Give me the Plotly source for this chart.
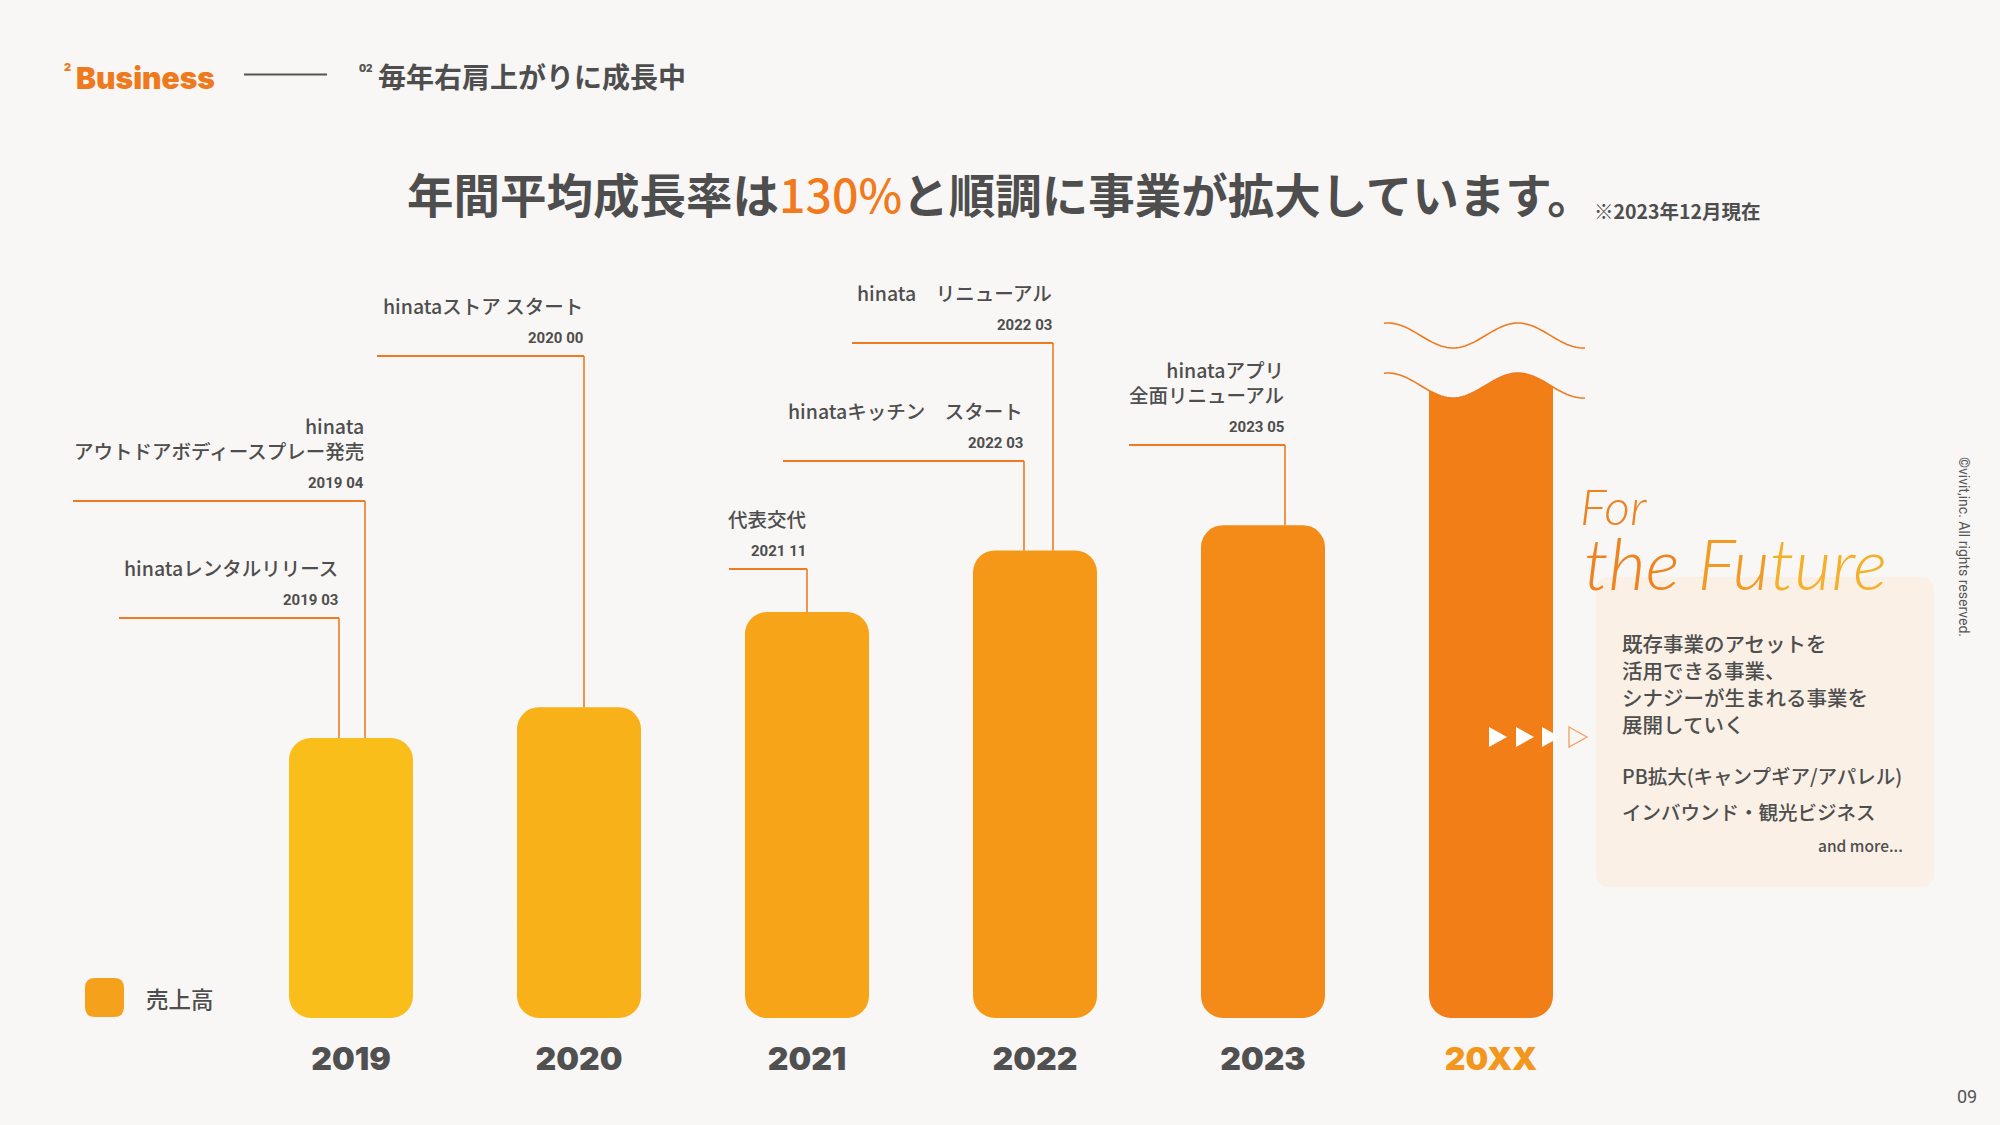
import math
import plotly.graph_objects as go

# ---------------- data ----------------
years = ["2019", "2020", "2021", "2022", "2023", "20XX"]
tick_labels = ["2019", "2020", "2021", "2022", "2023", "<span style='color:#F3961D'>20XX</span>"]
sales_index = [100, 111, 145, 167, 176, 245]   # relative revenue (2019 = 100); 20XX = projected (broken bar)
bar_colors = ["#F9BE19", "#F8B118", "#F7A418", "#F59818", "#F48B18", "#F27E17"]

event_titles = ["hinataレンタルリリース", "hinata<br>アウトドアボディースプレー発売", "hinataストア スタート",
                "代表交代", "hinataキッチン　スタート", "hinata　リニューアル", "hinataアプリ<br>全面リニューアル"]
event_dates = ["2019 03", "2019 04", "2020 00", "2021 11", "2022 03", "2022 03", "2023 05"]
event_year_idx = [0, 0, 1, 2, 3, 3, 4]

future_text = ["既存事業のアセットを", "活用できる事業、", "シナジーが生まれる事業を", "展開していく"]
future_items = ["PB拡大(キャンプギア/アパレル)", "インバウンド・観光ビジネス"]

# ---------------- layout constants ----------------
W, H = 2000, 1125
PB = 1018            # pixel row of the bar baseline (plot bottom)
PXU = 2.8            # pixels per index unit
X0, STEP = 351, 228  # pixel centre of first category, category spacing
BAR_W = 124

event_offset_px = [-12, 14, 5, 0, -11, 18, 22]
event_line_left_px = [119, 73, 377, 729, 783, 852, 1129]
event_line_y_px = [618, 501, 356, 569, 461, 343, 445]

BG = "#F8F7F5"
ORANGE = "#EE7B22"
GRAY = "#4E4E4E"
JP = "Noto Sans CJK JP"
HEAVY = "Inter"


def px(x):
    return x / W


def py(y):
    return (PB - y) / PB


def dy(p):
    return (PB - p) / PXU


fig = go.Figure()

# bars: two overlapping pieces so both ends get rounded corners
base_top = [v * 0.25 for v in sales_index]
len_top = [v - b for v, b in zip(sales_index, base_top)]
base_bot = [v * 0.75 for v in sales_index]
len_bot = [-b for b in base_bot]

fig.add_trace(go.Bar(x=years, y=len_bot, base=base_bot, width=BAR_W / STEP, name="売上高",
                     marker=dict(color=bar_colors, cornerradius=22, line=dict(width=0)),
                     showlegend=False, hoverinfo="skip"))
fig.add_trace(go.Bar(x=years, y=len_top, base=base_top, width=BAR_W / STEP, name="売上高",
                     marker=dict(color=bar_colors, cornerradius=22, line=dict(width=0)),
                     showlegend=False, hoverinfo="skip"))

shapes = []
annotations = []


def ann(text, x, y, size, color=GRAY, weight=500, xanchor="left", yanchor="middle",
        family=JP, align="left", style="normal", textangle=0):
    annotations.append(dict(text=text, x=px(x), y=py(y), xref="paper", yref="paper",
                            xanchor=xanchor, yanchor=yanchor, showarrow=False, align=align,
                            textangle=textangle,
                            font=dict(size=size, color=color, family=family, weight=weight, style=style)))


def rrect_path(x0, y0, x1, y1, r):
    pts = [("M", [(x0 + r, y0)]), ("L", [(x1 - r, y0)]), ("Q", [(x1, y0), (x1, y0 + r)]),
           ("L", [(x1, y1 - r)]), ("Q", [(x1, y1), (x1 - r, y1)]), ("L", [(x0 + r, y1)]),
           ("Q", [(x0, y1), (x0, y1 - r)]), ("L", [(x0, y0 + r)]), ("Q", [(x0, y0), (x0 + r, y0)])]
    s = ""
    for cmd, ps in pts:
        s += cmd + " " + " ".join(f"{px(a):.5f},{py(b):.5f}" for a, b in ps) + " "
    return s + "Z"


# ---------- event leader lines & labels ----------
for i, title in enumerate(event_titles):
    idx = event_year_idx[i]
    vx = X0 + STEP * idx + event_offset_px[i]
    xcat = idx + event_offset_px[i] / STEP
    ly = event_line_y_px[i]
    shapes.append(dict(type="line", xref="x", yref="y", x0=xcat, x1=xcat,
                       y0=sales_index[idx], y1=dy(ly), line=dict(color=ORANGE, width=1.6)))
    shapes.append(dict(type="line", xref="x", yref="y",
                       x0=(event_line_left_px[i] - X0) / STEP, x1=xcat, y0=dy(ly), y1=dy(ly),
                       line=dict(color=ORANGE, width=1.8)))
    ann(f"<b>{event_dates[i]}</b>", vx + 1, ly - 18, 15, family="Roboto", weight=700,
        xanchor="right")
    ann(title, vx + 1, ly - 34, 19.5, xanchor="right", yanchor="bottom", align="right")

# ---------- broken 20XX bar: wave cut ----------
def wave_y(x, c):
    return c - 12.5 * math.cos(2 * math.pi * (x - 1518) / 130)


xs = list(range(1384, 1586, 3)) + [1585]
cover = "M " + " L ".join(f"{px(x):.5f},{py(wave_y(x, 385.5)):.5f}" for x in xs)
cover += f" L {px(1585):.5f},{py(250):.5f} L {px(1384):.5f},{py(250):.5f} Z"
shapes.append(dict(type="path", xref="paper", yref="paper", path=cover,
                   fillcolor=BG, line=dict(width=0), layer="above"))
for c in (385.5, 335.5):
    p = "M " + " L ".join(f"{px(x):.5f},{py(wave_y(x, c)):.5f}" for x in xs)
    shapes.append(dict(type="path", xref="paper", yref="paper", path=p,
                       line=dict(color=ORANGE, width=1.6), layer="above"))

# ---------- arrows ----------
for k, x in enumerate([1489, 1516, 1542, 1569]):
    p = f"M {px(x):.5f},{py(727):.5f} L {px(x + 18):.5f},{py(737):.5f} L {px(x):.5f},{py(747):.5f} Z"
    if k < 3:
        shapes.append(dict(type="path", xref="paper", yref="paper", path=p,
                           fillcolor="#FFFFFF", line=dict(width=0), layer="above"))
    else:
        shapes.append(dict(type="path", xref="paper", yref="paper", path=p,
                           fillcolor="rgba(0,0,0,0)", line=dict(color="#F4A46A", width=1.4),
                           layer="above"))

# ---------- future box ----------
shapes.append(dict(type="path", xref="paper", yref="paper", path=rrect_path(1596, 577, 1934, 887, 14),
                   fillcolor="#F9EEE4", line=dict(width=0), layer="below", opacity=0.9))
ann("<span style='color:#EE8220'>For</span>", 1578, 506, 50, family="Lato", weight=300,
    style="italic")
ann("<span style='color:#EE8320'>the </span><span style='color:#F29B24'>Fu</span>"
    "<span style='color:#F5B02A'>ture</span>", 1582, 562, 72, family="Lato", weight=300,
    style="italic")
for k, t in enumerate(future_text):
    ann(t, 1620, 643 + 27 * k, 20.5, weight=500)
ann(future_items[0], 1620, 775, 19.5, weight=500)
ann(future_items[1], 1620, 811, 19.5, weight=500)
ann("and more...", 1905, 845, 15.5, weight=500, xanchor="right")

# ---------- header ----------
ann("2", 62, 67, 11, color="#EF7A1E", weight=900, family=HEAVY)
ann("Business", 74, 78, 30, color="#EF7A1E", weight=900, family=HEAVY)
shapes.append(dict(type="line", xref="paper", yref="paper", x0=px(244), x1=px(327),
                   y0=py(74.5), y1=py(74.5), line=dict(color="#555555", width=2)))
ann("02", 357, 68, 10, color="#555555", weight=900, family=HEAVY)
ann("毎年右肩上がりに成長中", 376, 76, 28, weight=700)

# ---------- title ----------
ann("年間平均成長率は<span style='color:#F07A1C; font-weight:500'>130%</span>と順調に事業が拡大しています。",
    1000, 192, 46.5, weight=700, xanchor="center")
ann("※2023年12月現在", 1592, 210, 19.5, weight=700)

# ---------- legend ----------
shapes.append(dict(type="path", xref="paper", yref="paper", path=rrect_path(85, 978, 124, 1017, 10),
                   fillcolor="#F6A11C", line=dict(width=0), layer="above"))
ann("売上高", 144, 998, 22.5, weight=500)

# ---------- footer ----------
ann("©vivit,inc. All rights reserved.", 1964, 547, 14, color="#555555", weight=400,
    family="Roboto", xanchor="center", textangle=90)
ann("09", 1967, 1096, 18, color="#555555", weight=400, family="Roboto", xanchor="center")

fig.update_layout(
    width=W, height=H,
    margin=dict(l=0, r=0, t=0, b=H - PB),
    paper_bgcolor=BG, plot_bgcolor=BG,
    barmode="overlay",
    showlegend=False,
    shapes=shapes,
    annotations=annotations,
    xaxis=dict(type="category", range=[-X0 / STEP, (W - X0) / STEP],
               tickmode="array", tickvals=years, ticktext=tick_labels,
               showgrid=False, zeroline=False, showline=False, ticks="",
               ticklabelstandoff=19,
               tickfont=dict(family=HEAVY, size=32, weight=900, color="#505050")),
    yaxis=dict(range=[0, PB / PXU], visible=False, showgrid=False, zeroline=False),
    hovermode=False,
)

fig.write_html("out.html",
               config={"displayModeBar": False},
               post_script="document.body.style.margin='0px';"
                           "document.body.style.overflow='hidden';"
                           "document.documentElement.style.overflow='hidden';")
